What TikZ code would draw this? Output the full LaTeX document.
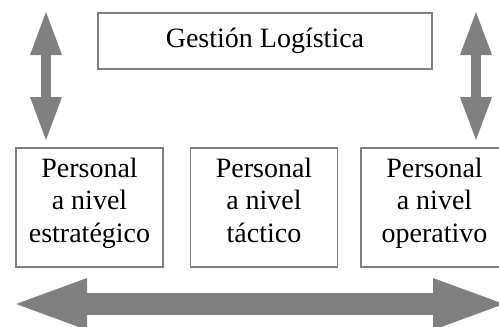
\documentclass[tikz,border=0pt]{standalone}
\usepackage{fontspec}
\setmainfont{Liberation Serif}
\usetikzlibrary{positioning,arrows.meta}
\definecolor{arrowgray}{RGB}{128,128,128}
\definecolor{boxgray}{RGB}{128,128,128}
\tikzstyle{logistics}=[
    x=1pt,y=-1pt,
    every node/.style={
        align=center,
        font=\fontsize{28}{32.5}\selectfont,
    }]
\tikzstyle{level box}=[draw=boxgray,line width=1.5pt,inner sep=0pt,
    minimum width=147pt,minimum height=119pt]
\tikzstyle{up down}=[draw=arrowgray,line width=10pt,
    {Triangle[width=32pt,length=43pt,line width=0pt]}-{Triangle[width=32pt,length=43pt,line width=0pt]}]
\tikzstyle{left right}=[draw=arrowgray,line width=22pt,
    {Triangle[width=52pt,length=71pt,line width=0pt]}-{Triangle[width=52pt,length=71pt,line width=0pt]}]
\newcommand{\levellabel}[1]{\strut Personal\\a nivel\\#1\rule[-18.75pt]{0pt}{18.75pt}}

\begin{document}
\begin{tikzpicture}[logistics]
        \useasboundingbox (0,0) rectangle (499,327);
        \node[level box, minimum width=334pt, minimum height=56pt] (gl) at (265,41) {Gestión Logística};
        \node[level box] (p1) at (89.5,207.5) {\levellabel{estratégico}};
        \node[level box, right=26pt of p1] (p2) {\levellabel{táctico}};
        \node[level box, right=22pt of p2] (p3) {\levellabel{operativo}};

        \coordinate (l1) at (46,12);
        \coordinate (l2) at (46,140);
        \coordinate (r1) at (476,12);
        \coordinate (r2) at (476,140);
        \coordinate (b1) at (16,304);
        \coordinate (b2) at (504,304);

        \draw[up down] (l1) -- (l2);
        \draw[up down] (r1) -- (r2);
        \draw[left right] (b1) -- (b2);
    \end{tikzpicture}
\end{document}
